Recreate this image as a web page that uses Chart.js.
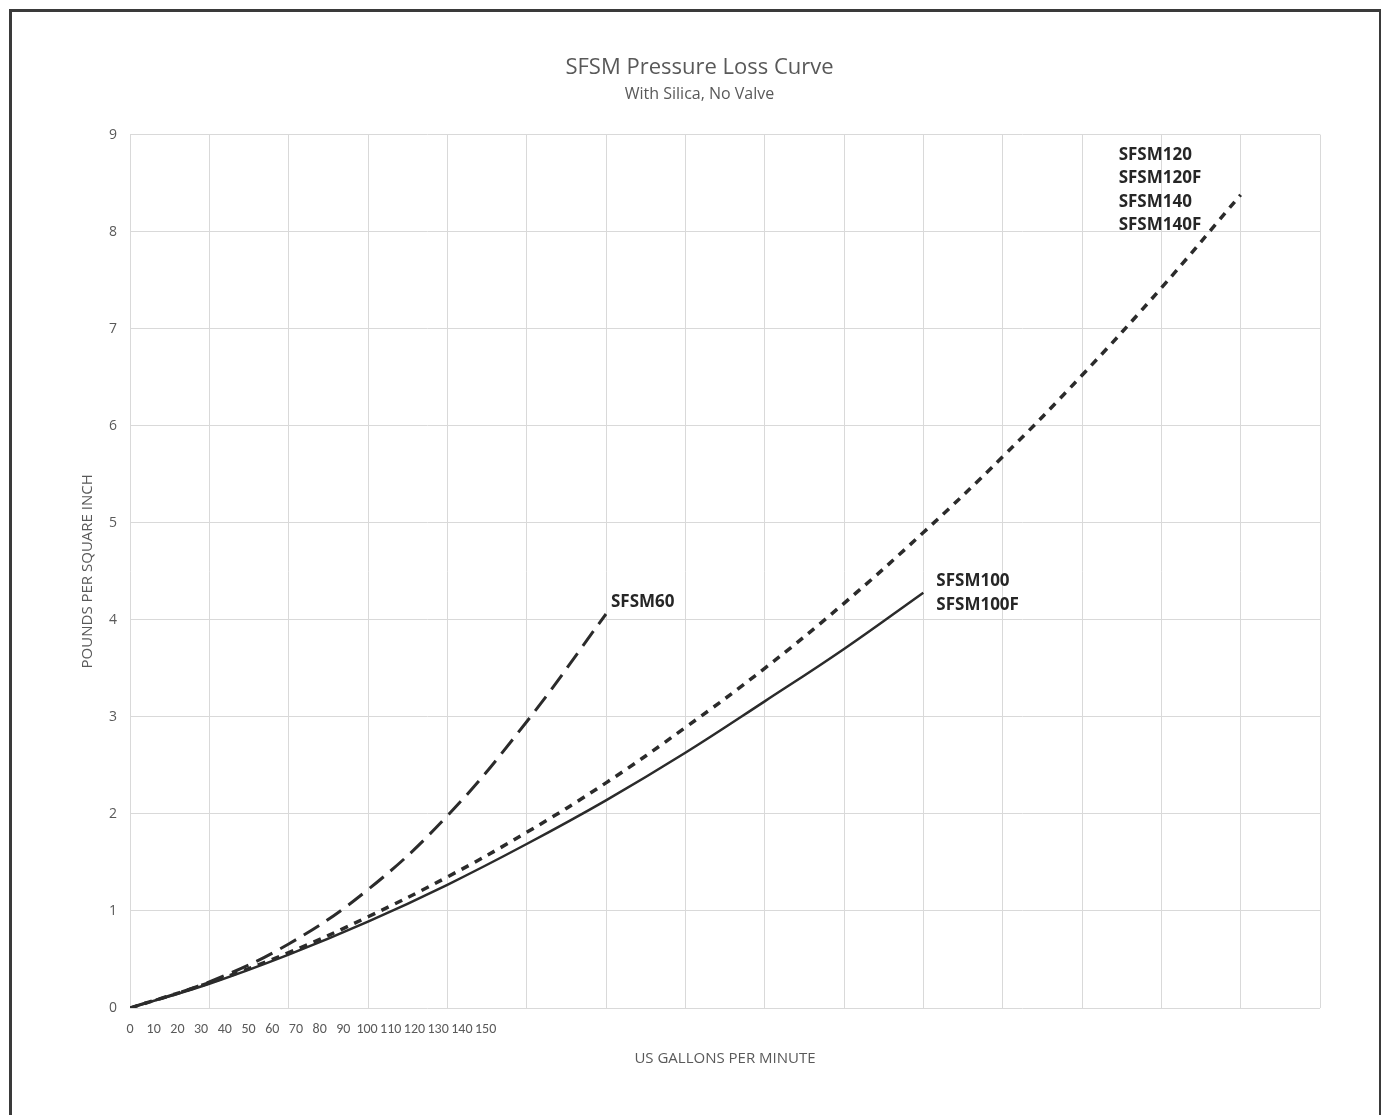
<!DOCTYPE html>
<html>
<head>
<meta charset="utf-8">
<title>SFSM Pressure Loss Curve</title>
<script src="https://cdn.jsdelivr.net/npm/chart.js@4.4.1/dist/chart.umd.min.js"></script>
<style>
    html, body { margin: 0; padding: 0; background: #fff; overflow: hidden; }
    #wrap { position: absolute; left: 0; top: 0; width: 1384px; height: 1115px; }
    #frame {
        position: absolute; left: 9px; top: 9px; width: 1372px; height: 1120px;
        border-left: 3px solid #3a3a3a; border-top: 3px solid #3a3a3a; border-right: 2px solid #3a3a3a;
        box-sizing: border-box; pointer-events: none;
    }
</style>
</head>
<body>
<div id="wrap"><canvas id="chart" width="1384" height="1115"></canvas></div>
<div id="frame"></div>
<script>
// flow rate (US gpm) for each curve point
var gpm60 = [0, 10, 20, 30, 40, 50, 60];
var gpm100 = [0, 10, 20, 30, 40, 50, 60, 70, 80, 90, 100];
var gpm120 = [0, 10, 20, 30, 40, 50, 60, 70, 80, 90, 100, 110, 120, 130, 140];

// pressure loss (psi)
var psi60 = [0, 0.27, 0.66, 1.22, 1.98, 2.95, 4.06];
var psi100 = [0, 0.25, 0.55, 0.89, 1.27, 1.69, 2.14, 2.63, 3.16, 3.70, 4.28];
var psi120 = [0, 0.26, 0.57, 0.94, 1.35, 1.81, 2.32, 2.89, 3.50, 4.17, 4.90, 5.68, 6.52, 7.42, 8.38];

// x tick labels (crammed to the left, as in the original)
var gpmTicks = [0, 10, 20, 30, 40, 50, 60, 70, 80, 90, 100, 110, 120, 130, 140, 150];

var curveNames = [["SFSM60"], ["SFSM100", "SFSM100F"], ["SFSM120", "SFSM120F", "SFSM140", "SFSM140F"]];

function toPoints(xs, ys) {
    return xs.map(function (x, i) { return {x: x, y: ys[i]}; });
}

var lineColor = "#2b2b2b";
var textColor = "#595959";
var narrow = "'Carlito', 'Liberation Sans Narrow', 'Open Sans'";

// writes the model names next to the end of each curve
var endLabels = {
    id: "endLabels",
    afterDatasetsDraw: function (chart) {
        var c = chart.ctx;
        var xs = chart.scales.x, ys = chart.scales.y;
        c.save();
        c.font = "bold 17px 'Open Sans'";
        c.fillStyle = "#262626";
        c.textBaseline = "middle";
        c.textAlign = "left";
        chart.data.datasets.forEach(function (ds, i) {
            var last = ds.data[ds.data.length - 1];
            var px = xs.getPixelForValue(last.x), py = ys.getPixelForValue(last.y);
            var names = curveNames[i];
            var ox, oy;
            if (i === 0) { ox = 5; oy = -12; }
            else if (i === 1) { ox = 13; oy = -11; }
            else { ox = -122; oy = -40; }
            names.forEach(function (n, k) {
                c.fillText(n, px + ox, py + oy + k * 23.5);
            });
        });
        c.restore();
    }
};

new Chart(document.getElementById("chart").getContext("2d"), {
    type: "line",
    data: {
        datasets: [{
            label: "SFSM60",
            data: toPoints(gpm60, psi60),
            borderColor: lineColor,
            borderWidth: 3,
            borderDash: [18, 9],
            pointRadius: 0,
            tension: 0.4
        }, {
            label: "SFSM100",
            data: toPoints(gpm100, psi100),
            borderColor: lineColor,
            borderWidth: 2.5,
            pointRadius: 0,
            tension: 0.4
        }, {
            label: "SFSM120",
            data: toPoints(gpm120, psi120),
            borderColor: lineColor,
            borderWidth: 3.5,
            borderDash: [8, 7],
            pointRadius: 0,
            tension: 0.4
        }]
    },
    options: {
        responsive: false,
        animation: false,
        events: [],
        layout: {padding: {left: 79, right: 64, top: 0, bottom: 47}},
        plugins: {
            legend: {display: false},
            tooltip: {enabled: false},
            title: {
                display: true,
                text: "SFSM Pressure Loss Curve",
                color: textColor,
                font: {family: "'Open Sans'", size: 22, weight: "normal"},
                padding: {top: 55, bottom: 1}
            },
            subtitle: {
                display: true,
                text: "With Silica, No Valve",
                color: textColor,
                font: {family: "'Open Sans'", size: 16, weight: "normal"},
                padding: {top: 2, bottom: 31}
            }
        },
        scales: {
            x: {
                type: "linear",
                position: "bottom",
                min: 0,
                max: 150,
                ticks: {display: false, stepSize: 10},
                grid: {color: "#d9d9d9", drawTicks: false},
                border: {display: false},
                afterFit: function (s) { s.height = 0; }
            },
            xl: {
                type: "linear",
                position: "bottom",
                min: 0,
                max: 502,
                afterBuildTicks: function (s) {
                    s.ticks = gpmTicks.map(function (v) { return {value: v}; });
                },
                ticks: {
                    color: textColor,
                    font: {family: narrow, size: 14},
                    padding: 13,
                    autoSkip: false,
                    maxRotation: 0,
                    callback: function (v) { return String(v); }
                },
                grid: {display: false, drawTicks: false},
                border: {display: false},
                title: {
                    display: true,
                    text: "US GALLONS PER MINUTE",
                    color: textColor,
                    font: {family: "'Open Sans'", size: 15},
                    padding: {top: 0, bottom: 0}
                },
                afterFit: function (s) { s.height = 60; }
            },
            y: {
                type: "linear",
                min: 0,
                max: 9,
                ticks: {
                    stepSize: 1,
                    color: textColor,
                    font: {family: "'Open Sans'", size: 14},
                    padding: 13
                },
                grid: {color: "#d9d9d9", drawTicks: false},
                border: {display: false},
                title: {
                    display: true,
                    text: "POUNDS PER SQUARE INCH",
                    color: textColor,
                    font: {family: "'Open Sans'", size: 15},
                    padding: {top: 0, bottom: 0}
                },
                afterFit: function (s) { s.width = 51; }
            }
        }
    },
    plugins: [endLabels]
});
</script>
</body>
</html>
